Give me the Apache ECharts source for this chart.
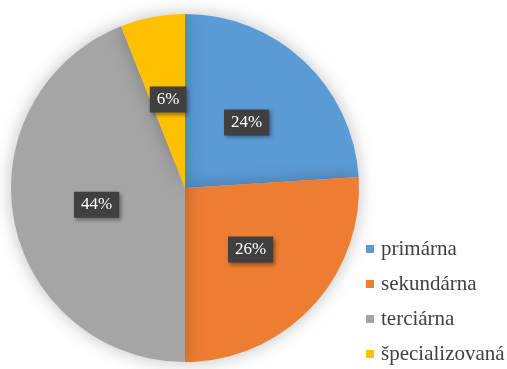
<!DOCTYPE html>
<html>
<head>
<meta charset="utf-8">
<script src="https://cdn.jsdelivr.net/npm/echarts@6/dist/echarts.min.js"></script>
<style>
  html, body { margin: 0; padding: 0; background: #fff; }
  #chart { width: 507px; height: 369px; }
</style>
</head>
<body>
<div id="chart"></div>
<script>
var categories = ['primárna', 'sekundárna', 'terciárna', 'špecializovaná'];
var values = [24, 26, 44, 6];
var colors = ['#5B9BD5', '#ED7D31', '#A5A5A5', '#FFC000'];

var chart = echarts.init(document.getElementById('chart'));

var option = {
  animation: false,
  color: colors,
  legend: {
    orient: 'vertical',
    left: 366,
    top: 238,
    padding: 0,
    icon: 'rect',
    itemWidth: 8,
    itemHeight: 8,
    itemGap: 13,
    data: categories,
    textStyle: {
      fontFamily: 'Liberation Serif',
      fontSize: 21,
      lineHeight: 22,
      color: '#404040',
      padding: [0, 0, 0, 2]
    }
  },
  series: [{
    type: 'pie',
    center: [185, 188],
    radius: [0, 174],
    startAngle: 90,
    clockwise: true,
    data: categories.map(function (name, i) {
      return { name: name, value: values[i] };
    }),
    itemStyle: {
      shadowBlur: 18,
      shadowColor: 'rgba(0,0,0,0.25)'
    },
    label: {
      show: true,
      position: 'inside',
      formatter: '{d}%',
      fontFamily: 'Liberation Serif',
      fontSize: 17,
      color: '#fff',
      backgroundColor: '#404040',
      padding: [5, 7, 4, 7],
      shadowBlur: 4,
      shadowColor: 'rgba(0,0,0,0.4)',
      shadowOffsetX: 2,
      shadowOffsetY: 2
    },
    labelLine: { show: false },
    emphasis: { disabled: true }
  }]
};

chart.setOption(option);
</script>
</body>
</html>
